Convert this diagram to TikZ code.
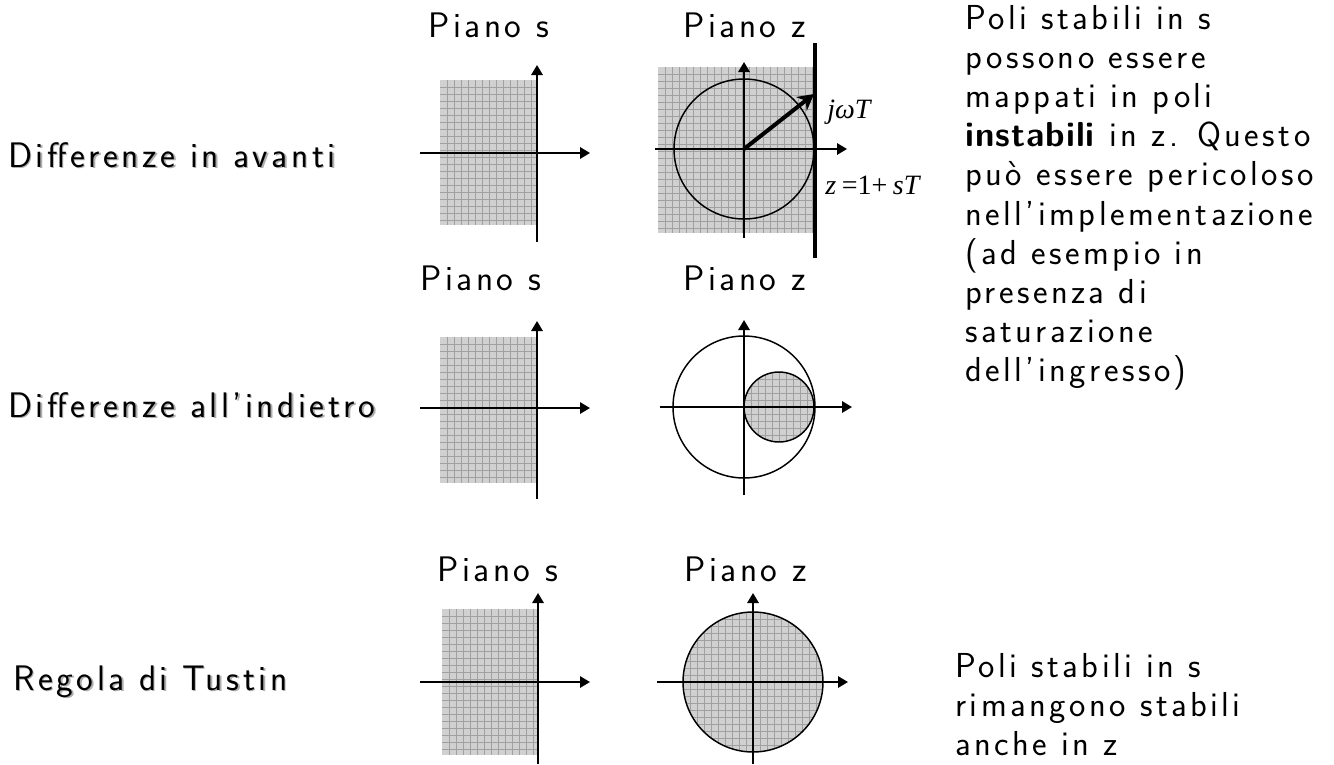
\documentclass[tikz,border=0pt]{standalone}
\usepackage{fontspec}
\setsansfont[LetterSpace=10]{Latin Modern Sans}
\newfontfamily\boldsans[LetterSpace=3]{Latin Modern Sans}
\newfontfamily\tms{Liberation Serif}
\usetikzlibrary{arrows.meta}
\definecolor{regfill}{RGB}{208,208,208}
\definecolor{gridcol}{RGB}{160,160,160}
\definecolor{shadowcol}{RGB}{175,175,175}
\newcommand\gridbox[6]{%
  \fill[regfill] (#1,#2) rectangle (#3,#4);
  \foreach \i in {1,...,#5} \draw[gridline] ({#1+7*\i},#2) -- ({#1+7*\i},#4);
  \foreach \j in {1,...,#6} \draw[gridline] (#1,{#2+7*\j}) -- (#3,{#2+7*\j});
}
\begin{document}
\begin{tikzpicture}[x=0.75pt,y=-0.75pt,
  txt/.style={font=\sffamily\fontsize{26}{31}\selectfont, anchor=base west, inner sep=0pt},
  lbl/.style={txt, font=\sffamily\fontsize{26.6}{31}\selectfont},
  gridline/.style={draw=gridcol, line width=0.4pt},
  axis/.style={line width=1.5pt, -{Triangle[length=7.5pt,width=8.5pt]}},
  rim/.style={line width=1.1pt},
  mth/.style={font=\tms\itshape\fontsize{21}{24}\selectfont, anchor=base west, inner sep=0pt}]
\useasboundingbox (0,0) rectangle (1334,764);

% ---------- Row 1: s plane ----------
\gridbox{440}{80}{537}{225}{13}{20}
\coordinate (s1w) at (420,153); \coordinate (s1e) at (590,153);
\coordinate (s1s) at (537,242); \coordinate (s1n) at (537,65);
\draw[axis] (s1w) -- (s1e);
\draw[axis] (s1s) -- (s1n);

% ---------- Row 1: z plane ----------
\gridbox{658}{67}{815}{233}{22}{23}
\coordinate (z1o) at (744,149);
\draw[rim] (z1o) circle[radius=70];
\coordinate (z1w) at (655,149); \coordinate (z1e) at (847,149);
\coordinate (z1s) at (744,238); \coordinate (z1n) at (744,62);
\draw[axis] (z1w) -- (z1e);
\draw[axis] (z1s) -- (z1n);
\coordinate (z1top) at (815,43); \coordinate (z1bot) at (815,258);
\draw[line width=3pt] (z1top) -- (z1bot);
\coordinate (z1v) at (814,94);
\draw[line width=3pt, -{Stealth[length=12pt,width=13pt,inset=4pt]}] (z1o) -- (z1v);
\node[mth] (jw) at (827,118) {jωT};
\node[mth] (zeq) at (825,194) {z\hspace{0.2em}{\upshape =1+}\hspace{0.2em}sT};

% ---------- Row 2: s plane ----------
\gridbox{440}{337}{537}{483}{13}{20}
\coordinate (s2w) at (420,408); \coordinate (s2e) at (590,408);
\coordinate (s2s) at (537,499); \coordinate (s2n) at (537,321);
\draw[axis] (s2w) -- (s2e);
\draw[axis] (s2s) -- (s2n);

% ---------- Row 2: z plane ----------
\coordinate (z2o) at (744,407);
\coordinate (z2c) at (779,407);
\begin{scope}
  \clip (z2c) circle[radius=35];
  \gridbox{744}{372}{814}{442}{9}{9}
\end{scope}
\draw[rim] (z2c) circle[radius=35];
\draw[rim] (z2o) circle[radius=71];
\coordinate (z2w) at (660,407); \coordinate (z2e) at (852,407);
\coordinate (z2s) at (744,495); \coordinate (z2n) at (744,320);
\draw[axis] (z2w) -- (z2e);
\draw[axis] (z2s) -- (z2n);

% ---------- Row 3: s plane ----------
\gridbox{442}{609}{538}{755}{13}{20}
\coordinate (s3w) at (420,682); \coordinate (s3e) at (590,682);
\coordinate (s3s) at (538,764); \coordinate (s3n) at (538,593);
\draw[axis] (s3w) -- (s3e);
\draw[axis] (s3s) -- (s3n);

% ---------- Row 3: z plane ----------
\coordinate (z3o) at (753,682);
\begin{scope}
  \clip (z3o) circle[radius=70];
  \gridbox{683}{612}{823}{752}{19}{19}
\end{scope}
\draw[rim] (z3o) circle[radius=70];
\coordinate (z3w) at (657,682); \coordinate (z3e) at (848,682);
\coordinate (z3s) at (753,764); \coordinate (z3n) at (753,593);
\draw[axis] (z3w) -- (z3e);
\draw[axis] (z3s) -- (z3n);

% ---------- Left labels (with shadow) ----------
\node[lbl, text=shadowcol] (l1s) at (9.5,168.5) {Differenze in avanti};
\node[lbl] (l1) at (8,167) {Differenze in avanti};
\node[lbl, text=shadowcol] (l2s) at (9.5,418.5) {Differenze all’indietro};
\node[lbl] (l2) at (8,417) {Differenze all’indietro};
\node[lbl, text=shadowcol] (l3s) at (14.5,691.5) {Regola di Tustin};
\node[lbl] (l3) at (13,690) {Regola di Tustin};

% ---------- Plane titles ----------
\node[lbl] (p1s) at (428,37) {Piano s};
\node[lbl] (p1z) at (683,37) {Piano z};
\node[lbl] (p2s) at (420,290) {Piano s};
\node[lbl] (p2z) at (683,290) {Piano z};
\node[lbl] (p3s) at (437,581) {Piano s};
\node[lbl] (p3z) at (684,581) {Piano z};

% ---------- Right comments ----------
\node[txt] (r1) at (965,29) {Poli stabili in s};
\node[txt] (r2) at (965,68.2) {possono essere};
\node[txt] (r3) at (965,107.4) {mappati in poli};
\node[txt] (r4) at (965,146.6) {{\boldsans\bfseries instabili} in z. Questo};
\node[txt] (r5) at (965,185.8) {può essere pericoloso};
\node[txt] (r6) at (965,225) {nell’implementazione};
\node[txt] (r7) at (965,264.2) {(ad esempio in};
\node[txt] (r8) at (965,303.4) {presenza di};
\node[txt] (r9) at (965,342.6) {saturazione};
\node[txt] (r10) at (965,381.8) {dell’ingresso)};

\node[txt] (t1) at (955,677) {Poli stabili in s};
\node[txt] (t2) at (955,716) {rimangono stabili};
\node[txt] (t3) at (955,755) {anche in z};
\end{tikzpicture}
\end{document}
